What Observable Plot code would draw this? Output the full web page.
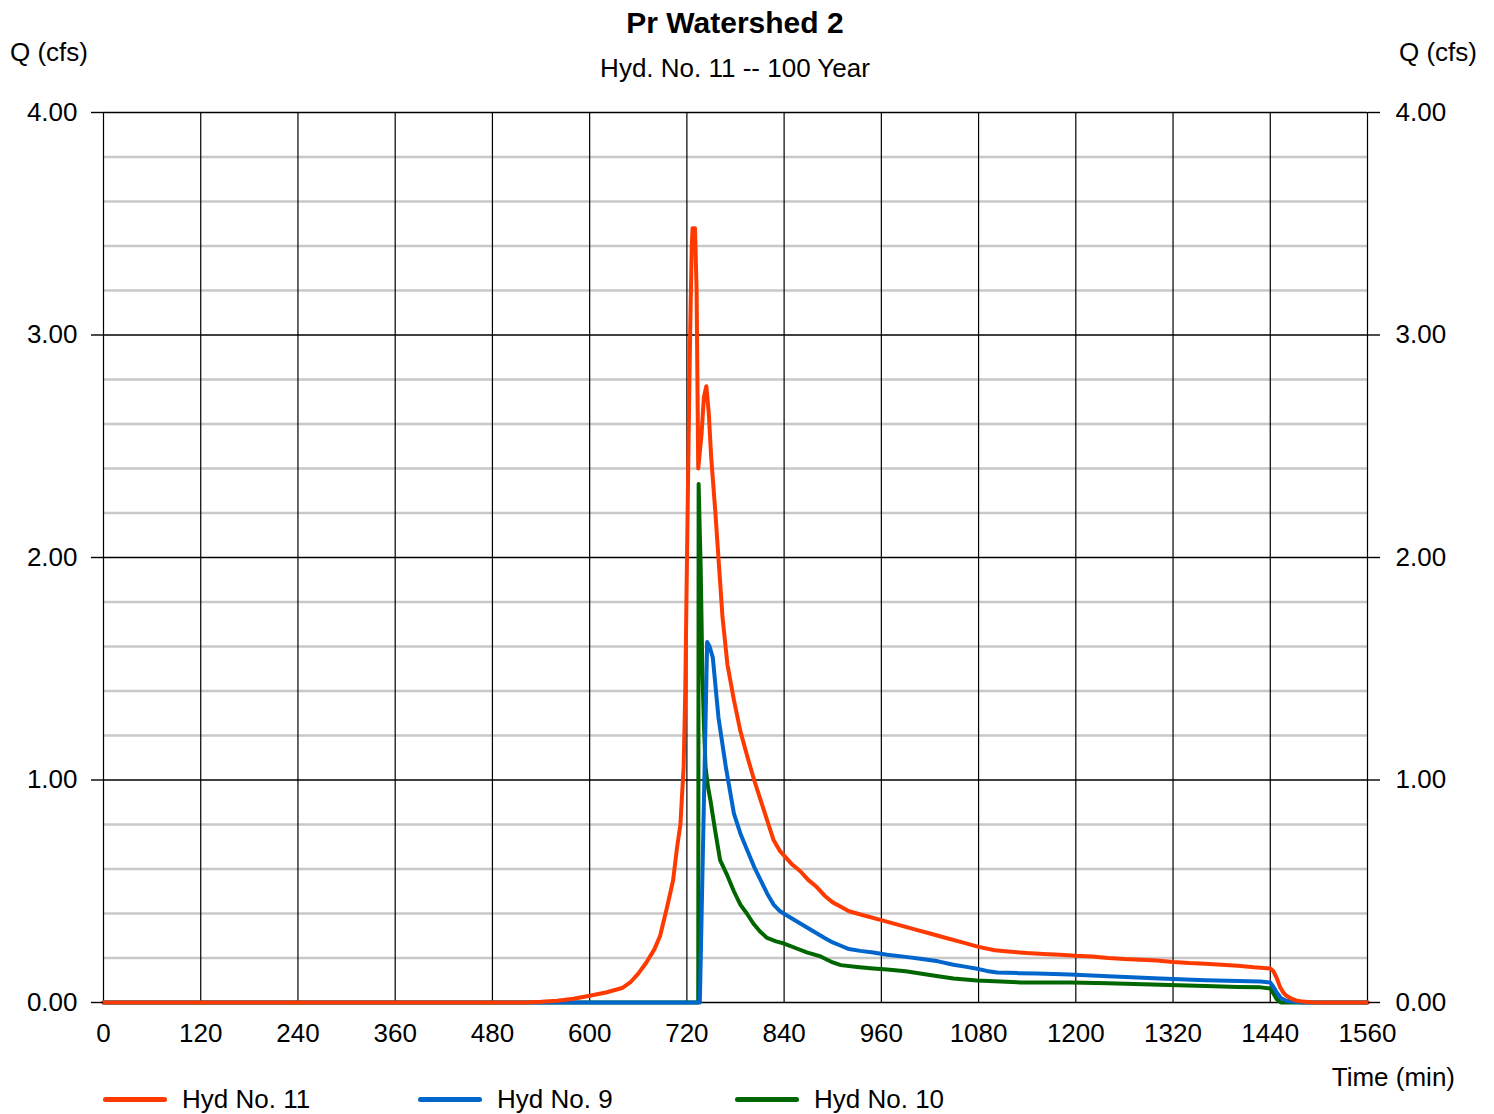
<!DOCTYPE html>
<html>
<head>
<meta charset="utf-8">
<script src="https://cdn.jsdelivr.net/npm/d3@7"></script>
<script src="https://cdn.jsdelivr.net/npm/@observablehq/plot@0.6"></script>
<style>
  body { margin: 0; background: #fff; font-family: "Liberation Sans", Arial, sans-serif; }
  #wrap { position: relative; width: 1494px; height: 1114px; overflow: hidden; }
  #wrap svg { position: absolute; left: 0; top: 0; }
  .t { position: absolute; white-space: nowrap; color: #000; font-size: 26px; line-height: 1; }
</style>
</head>
<body>
<div id="wrap"></div>
<script>
// ---- data ----
const xTicks = [0,120,240,360,480,600,720,840,960,1080,1200,1320,1440,1560];
const yMajor = [0,1,2,3,4];
const yMinor = [0.2,0.4,0.6,0.8,1.2,1.4,1.6,1.8,2.2,2.4,2.6,2.8,3.2,3.4,3.6,3.8];

const seriesNames = ["Hyd No. 11","Hyd No. 9","Hyd No. 10"];
const seriesColors = ["#ff3a00","#0066cc","#006600"];

const hyd11T = [0,520,540,560,580,600,620,640,650,660,670,680,687,695,700,703,708,712,716,718,720,722,724,726,727,730,732,734,738,741,744,747,750,755,758,764,770,778,786,795,803,811,819,827,835,840,850,860,870,880,890,900,910,920,930,940,960,980,1000,1020,1040,1060,1080,1100,1120,1140,1160,1180,1200,1220,1240,1260,1280,1300,1320,1340,1360,1380,1400,1420,1440,1444,1448,1452,1456,1460,1466,1472,1480,1490,1500,1560];
const hyd11Q = [0,0,0.003,0.008,0.017,0.03,0.045,0.065,0.09,0.13,0.18,0.24,0.30,0.42,0.50,0.55,0.70,0.80,1.06,1.4,1.96,2.5,3.0,3.4,3.48,3.48,3.2,2.4,2.55,2.72,2.77,2.65,2.45,2.21,2.05,1.73,1.52,1.36,1.22,1.10,1.0,0.91,0.82,0.73,0.68,0.66,0.62,0.59,0.55,0.52,0.48,0.45,0.43,0.41,0.40,0.39,0.37,0.35,0.33,0.31,0.29,0.27,0.25,0.235,0.228,0.222,0.218,0.215,0.21,0.207,0.2,0.195,0.192,0.189,0.182,0.177,0.174,0.17,0.165,0.158,0.153,0.14,0.11,0.07,0.045,0.03,0.017,0.009,0.004,0.001,0,0];

const hyd9T = [0,736,745,748,752,759,768,778,786,795,803,811,819,827,835,844,860,876,890,900,910,920,934,950,967,990,1008,1030,1049,1065,1078,1090,1103,1130,1152,1193,1240,1304,1360,1400,1428,1440,1444,1448,1453,1460,1469,1480,1560];
const hyd9Q = [0,0,1.62,1.6,1.55,1.28,1.06,0.85,0.76,0.68,0.61,0.55,0.49,0.44,0.41,0.39,0.355,0.32,0.29,0.27,0.255,0.24,0.232,0.225,0.215,0.205,0.197,0.185,0.17,0.16,0.152,0.142,0.135,0.132,0.13,0.126,0.118,0.108,0.1,0.097,0.094,0.09,0.07,0.045,0.02,0.008,0.003,0,0];

const hyd10T = [0,734,734.5,736,737,739,741,743,746,749,755,761,770,778,786,794,802,810,819,830,840,854,868,885,900,910,930,950,967,990,1008,1030,1049,1078,1100,1132,1193,1240,1304,1360,1400,1428,1440,1444,1448,1453,1560];
const hyd10Q = [0,0,2.33,2.1,1.96,1.51,1.25,1.06,0.97,0.91,0.77,0.64,0.57,0.5,0.44,0.40,0.355,0.32,0.29,0.275,0.265,0.245,0.225,0.207,0.18,0.168,0.16,0.153,0.148,0.14,0.13,0.118,0.108,0.099,0.095,0.09,0.09,0.086,0.08,0.074,0.07,0.068,0.063,0.04,0.015,0,0];

// ---- build ----
const toRows = (T, Q) => T.map((t, i) => ({t, q: Q[i]}));
const d11 = toRows(hyd11T, hyd11Q);
const d9 = toRows(hyd9T, hyd9Q);
const d10 = toRows(hyd10T, hyd10Q);

const fmt = d3.format(".2f");
const chart = Plot.plot({
  width: 1494,
  height: 1114,
  marginLeft: 103,
  marginRight: 127,
  marginTop: 112,
  marginBottom: 112,
  style: { fontFamily: '"Liberation Sans", Arial, sans-serif', fontSize: "26px", color: "#000", background: "transparent" },
  x: { domain: [0, 1560] },
  y: { domain: [0, 4] },
  marks: [
    Plot.ruleY(yMinor, { stroke: "#c8c8c8", strokeWidth: 2.5 }),
    Plot.ruleX(xTicks, { stroke: "#000", strokeWidth: 1.2 }),
    Plot.ruleY(yMajor, { stroke: "#000", strokeWidth: 1.4 }),
    Plot.line(d10, { x: "t", y: "q", stroke: seriesColors[2], strokeWidth: 4, strokeLinejoin: "round" }),
    Plot.line(d9, { x: "t", y: "q", stroke: seriesColors[1], strokeWidth: 4, strokeLinejoin: "round" }),
    Plot.line(d11, { x: "t", y: "q", stroke: seriesColors[0], strokeWidth: 4, strokeLinejoin: "round" }),
    Plot.axisY(yMajor, { anchor: "left", tickSize: 12, tickPadding: 14, tickFormat: fmt, label: null, fontSize: 26, strokeWidth: 1.4 }),
    Plot.axisY(yMajor, { anchor: "right", tickSize: 12, tickPadding: 16, tickFormat: fmt, label: null, fontSize: 26, strokeWidth: 1.4 }),
    Plot.axisX(xTicks, { anchor: "bottom", tickSize: 0, tickPadding: 21, tickFormat: d => String(d), label: null, fontSize: 26 })
  ]
});
const wrap = document.getElementById("wrap");
wrap.appendChild(chart);

function addText(txt, x, y, anchor, extra) {
  const el = document.createElement("div");
  el.className = "t";
  el.textContent = txt;
  const tx = anchor === "middle" ? "-50%" : anchor === "end" ? "-100%" : "0";
  el.style.left = x + "px";
  el.style.top = y + "px";
  el.style.transform = `translate(${tx}, -50%)`;
  if (extra) Object.assign(el.style, extra);
  wrap.appendChild(el);
  return el;
}
addText("Pr Watershed 2", 735, 23, "middle", { fontWeight: "bold", fontSize: "30px" });
addText("Hyd. No. 11 -- 100 Year", 735, 68, "middle");
addText("Q (cfs)", 10, 52, "start");
addText("Q (cfs)", 1477, 52, "end");
addText("Time (min)", 1455, 1077, "end");

// legend
const legX = [103, 418, 735];
seriesNames.forEach((name, i) => {
  const sw = document.createElement("div");
  Object.assign(sw.style, { position: "absolute", left: legX[i] + "px", top: "1097px", width: "64px", height: "5px", borderRadius: "3px", background: seriesColors[i] });
  wrap.appendChild(sw);
  addText(name, legX[i] + 79, 1099, "start");
});
</script>
</body>
</html>
